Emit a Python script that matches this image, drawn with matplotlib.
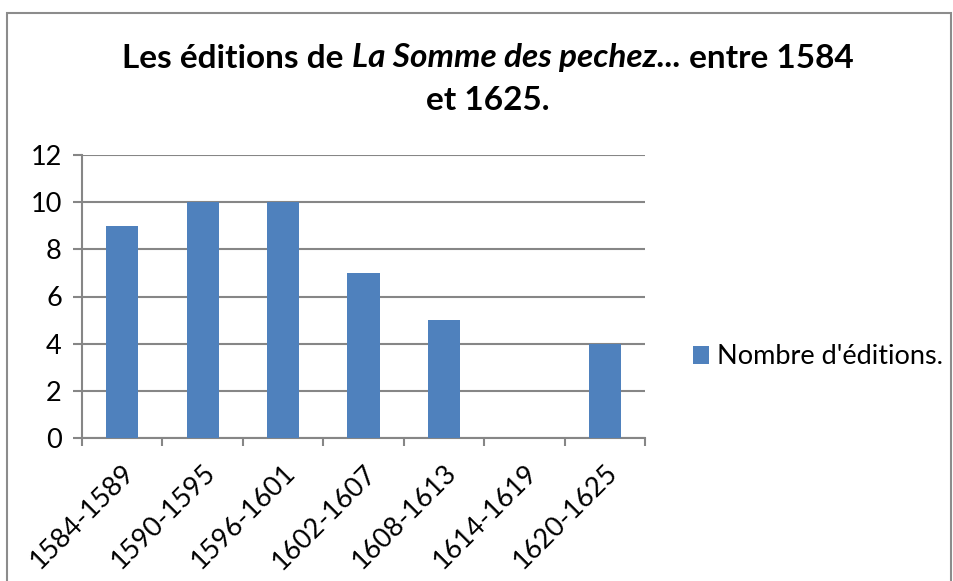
import matplotlib
matplotlib.use("Agg")
import matplotlib.pyplot as plt
from matplotlib.patches import Rectangle
import numpy as np

periods = ["1584-1589", "1590-1595", "1596-1601", "1602-1607",
           "1608-1613", "1614-1619", "1620-1625"]
editions = [9, 10, 10, 7, 5, 0, 4]
series_name = "Nombre d'éditions."
yticks = [0, 2, 4, 6, 8, 10, 12]

plt.rcParams['font.family'] = ['Lato', 'DejaVu Sans']
bar_color = "#4F81BD"
grid_color = "#868686"

dpi = 100
fig = plt.figure(figsize=(954 / dpi, 581 / dpi), dpi=dpi)
ax = fig.add_axes([82 / 954, 1 - 438 / 581, (645 - 82) / 954, (438 - 155) / 581])

x = np.arange(len(periods))
ax.bar(x, editions, width=0.4, color=bar_color, zorder=3, label=series_name)
ax.set_xlim(-0.5, len(periods) - 0.5)
ax.set_ylim(0, 12)
ax.set_yticks(yticks)
ax.set_yticklabels([str(v) for v in yticks], fontsize=19.5)
ax.yaxis.grid(True, color=grid_color, linewidth=1.5, zorder=0)
ax.tick_params(axis='y', length=6.5, width=1.5, color=grid_color, pad=8)

# category boundaries carry the ticks, labels sit at the centres
ax.set_xticks(np.arange(-0.5, len(periods), 1.0))
ax.set_xticklabels([])
ax.tick_params(axis='x', length=6, width=1.5, color=grid_color)
ax.set_xticks(x, minor=True)
ax.set_xticklabels(periods, minor=True, fontsize=19.5, rotation=45,
                   ha='right', va='top', rotation_mode='anchor')
ax.tick_params(axis='x', which='minor', length=0, pad=16)

for side in ("top", "right"):
    ax.spines[side].set_visible(False)
for side in ("left", "bottom"):
    ax.spines[side].set_color(grid_color)
    ax.spines[side].set_linewidth(1.5)

# title, with the book title in italics
renderer = fig.canvas.get_renderer()
parts = [("Les éditions de ", "normal"), ("La Somme des pechez...", "italic"),
         (" entre 1584", "normal")]
tsize = 24
objs = []
for s, st in parts:
    t = fig.text(0, 1 - 58 / 581, s, fontsize=tsize, fontweight='bold',
                 style=st, ha='left', va='center')
    objs.append(t)
widths = [t.get_window_extent(renderer).width for t in objs]
xpos = 488 - sum(widths) / 2
for t, w in zip(objs, widths):
    t.set_x(xpos / 954)
    xpos += w
fig.text(488 / 954, 1 - 100 / 581, "et 1625.", fontsize=tsize,
         fontweight='bold', ha='center', va='center')

# legend
fig.legend(loc='center left', bbox_to_anchor=(682 / 954, 1 - 357 / 581),
           frameon=False, fontsize=19.5, handlelength=0.6, handleheight=0.6,
           handletextpad=0.3, borderaxespad=0)

# chart-area border
fig.patches.append(Rectangle((7 / 954, -0.1), (951 - 7) / 954, 1.1 - 13 / 581,
                             transform=fig.transFigure, fill=False,
                             edgecolor="#8C8C8C", linewidth=1.5))

fig.savefig("out.png", dpi=dpi)
